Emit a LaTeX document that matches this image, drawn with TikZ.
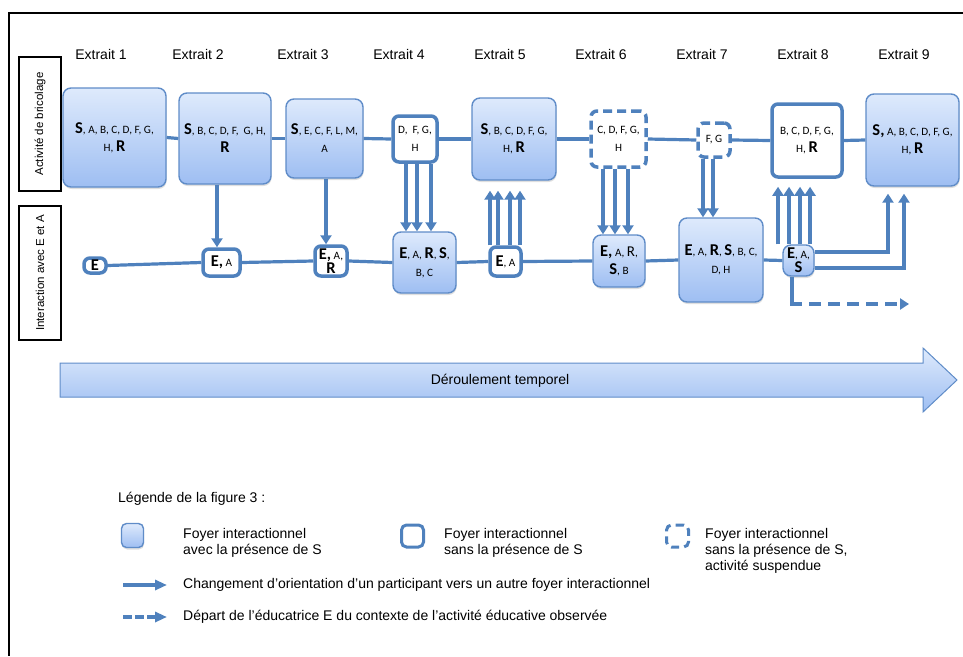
\documentclass[tikz,border=0pt]{standalone}
\usepackage{fontspec}
\setmainfont{Liberation Sans}
\newfontfamily\boxfont{Carlito}
\usetikzlibrary{arrows.meta,shadows,calc}
\definecolor{linec}{RGB}{79,129,189}
\definecolor{bordc}{RGB}{95,140,200}
\definecolor{topc}{RGB}{222,234,252}
\definecolor{botc}{RGB}{158,190,242}
\newcommand{\BL}[1]{{\fontsize{16.5}{18}\selectfont\bfseries #1}}
\newcommand{\ML}[1]{{\fontsize{15}{18}\selectfont #1}}
\begin{document}
\begin{tikzpicture}[x=1pt,y=-1pt,
  boxtext/.style={inner sep=0pt, align=center, font=\boxfont\fontsize{11.2}{18}\selectfont},
  fillbox/.style={boxtext, rounded corners=8pt, draw=bordc, line width=1.4pt, top color=topc, bottom color=botc,
     drop shadow={opacity=0.25, shadow xshift=0.6pt, shadow yshift=-2pt}},
  whitebox/.style={boxtext, rounded corners=6pt, draw=linec, line width=3.5pt, fill=white},
  dashbox/.style={whitebox, dash pattern=on 9pt off 5pt},
  conn/.style={draw=linec, line width=3.2pt},
  arr/.style={conn, -{Triangle[width=11pt,length=9pt]}},
  lbl/.style={font=\fontsize{14}{16}\selectfont, inner sep=0pt},
  rowbox/.style={draw=black, line width=1.8pt, fill=white, rotate=90, inner sep=0pt, font=\fontsize{11.5}{13}\selectfont}
]
\useasboundingbox (0,0) rectangle (963,656);
% frame
\draw[black, line width=1.3pt] (963,13) -- (9,13) -- (9,656);
% headers
\foreach \i/\x in {1/101,2/198,3/303,4/399,5/500,6/601,7/702,8/803,9/904}
  \node[lbl] (h\i) at (\x,54) {Extrait \i};
% row labels
\node[rowbox, minimum width=134pt, minimum height=42pt] (rowA) at (40,124) {Activité de bricolage};
\node[rowbox, minimum width=134pt, minimum height=42pt] (rowB) at (40,273) {Interaction avec E et A};
% top row
\node[fillbox, minimum width=103pt, minimum height=99pt] (T1) at (114.5,137.5) {\BL{S}, A, B, C, D, F, G,\\ H, \BL{R}};
\node[fillbox, minimum width=92pt, minimum height=91pt] (T2) at (225,138.5) {\BL{S}, B, C, D, F,\ \ G, H,\\ \BL{R}};
\node[fillbox, minimum width=77pt, minimum height=79pt] (T3) at (324.5,138.5) {\BL{S}, E, C, F, L, M,\\ A};
\node[whitebox, minimum width=44pt, minimum height=46pt] (T4) at (415,139) {D,\ \ F, G,\\ H};
\node[fillbox, minimum width=84pt, minimum height=82pt] (T5) at (514,139) {\BL{S}, B, C, D, F, G,\\ H, \BL{R}};
\node[dashbox, minimum width=55pt, minimum height=56pt] (T6) at (618.5,139) {C, D, F, G,\\ H};
\node[dashbox, minimum width=32pt, minimum height=34pt] (T7) at (714,140) {F, G};
\node[whitebox, minimum width=70pt, minimum height=73pt] (T8) at (807,140.5) {B, C, D, F, G,\\ H, \BL{R}};
\node[fillbox, minimum width=93pt, minimum height=92pt] (T9) at (912.5,140) {\BL{S,} A, B, C, D, F, G,\\ H, \BL{R}};
% bottom row
\node[whitebox, minimum width=22pt, minimum height=15pt] (B1) at (95,265.5) {\BL{E}};
\node[whitebox, minimum width=37pt, minimum height=27pt] (B2) at (221.5,262.5) {\BL{E,} A};
\node[whitebox, minimum width=32pt, minimum height=30pt] (B3) at (331,261) {\BL{E,} A,\\[-4pt] \BL{R}};
\node[fillbox, minimum width=63pt, minimum height=61pt] (B4) at (424.5,262.5) {\BL{E}, A, \BL{R}, \BL{S},\\ B, C};
\node[whitebox, minimum width=31pt, minimum height=29pt] (B5) at (505.5,261.5) {\BL{E}, A};
\node[fillbox, minimum width=52pt, minimum height=52pt] (B6) at (619,261) {\BL{E,} A, \ML{R},\\ \BL{S}, B};
\node[fillbox, minimum width=84pt, minimum height=84pt] (B7) at (721,260) {\BL{E}, A, \BL{R}, \BL{S}, B, C,\\ D, H};
\node[fillbox, minimum width=31pt, minimum height=31pt] (B8) at (798.5,260.5) {\BL{E}, A,\\[-4pt] \BL{S}};
% top connectors
\draw[conn] (T1.east) -- (T2.west);
\draw[conn] (T2.east) -- (T3.west);
\draw[conn] (T3.east) -- (T4.west);
\draw[conn] (T4.east) -- (T5.west);
\draw[conn] (T5.east) -- (T6.west);
\draw[conn] (T6.east) -- (T7.west);
\draw[conn] (T7.east) -- (T8.west);
\draw[conn] (T8.east) -- (T9.west);
% bottom connectors
\draw[conn] (B1.east) -- (B2.west);
\draw[conn] (B2.east) -- (B3.west);
\draw[conn] (B3.east) -- (B4.west);
\draw[conn] (B4.east) -- (B5.west);
\draw[conn] (B5.east) -- (B6.west);
\draw[conn] (B6.east) -- (B7.west);
\draw[conn] (B7.east) -- (B8.west);
% vertical arrows down
\draw[arr] (217,0 |- T2.south) -- (217,0 |- B2.north);
\draw[arr] (326,0 |- T3.south) -- (326,0 |- B3.north);
\foreach \x in {406,417,431} \draw[arr] (\x,0 |- T4.south) -- (\x,0 |- B4.north);
\foreach \x in {603,615,628} \draw[arr] (\x,0 |- T6.south) -- (\x,0 |- B6.north);
\foreach \x in {703,713} \draw[arr] (\x,0 |- T7.south) -- (\x,0 |- B7.north);
% vertical arrows up
\foreach \x in {490,498,510,520} \draw[arr, shorten >=10pt] (\x,0 |- B5.north) -- (\x,0 |- T5.south);
\foreach \x in {778,789,800,810} \draw[arr, shorten >=8pt] (\x,0 |- B8.north) -- (\x,0 |- T8.south);
% elbow arrows to T9
\draw[arr, shorten >=7pt] (B8.east |- 0,252) -| (888,0 |- T9.south);
\draw[arr, shorten >=7pt] (B8.east |- 0,268) -| (904,0 |- T9.south);
% departure
\coordinate (dk) at (792,304);
\coordinate (dend) at (909,304);
\draw[conn] (792,0 |- B8.south) -- (dk);
\draw[arr, dash pattern=on 12pt off 7pt] ([xshift=-1.6pt]dk) -- (dend);
% big time arrow
\shade[top color=topc, bottom color=botc, draw=bordc, line width=1pt]
  (60,363) -- (923,363) -- (923,348) -- (957,380) -- (923,412) -- (923,397) -- (60,397) -- cycle;
\node[lbl] (tempo) at (500,381) {Déroulement temporel};
% legend
\node[lbl, anchor=west] (legt) at (118,499) {Légende de la figure 3 :};
\node[fillbox, minimum width=22pt, minimum height=24pt, rounded corners=5pt] (L1) at (132.5,535.5) {};
\node[lbl, anchor=west, align=left] (L1t) at (183,543) {Foyer interactionnel\\avec la présence de S};
\node[whitebox, minimum width=22pt, minimum height=22pt, line width=3pt, rounded corners=5pt] (L2) at (412.5,536) {};
\node[lbl, anchor=west, align=left] (L2t) at (444,543) {Foyer interactionnel\\sans la présence de S};
\node[dashbox, minimum width=22pt, minimum height=22pt, line width=3pt, rounded corners=5pt, dash pattern=on 8pt off 5pt] (L3) at (677.5,536) {};
\node[lbl, anchor=west, align=left] (L3t) at (705,551) {Foyer interactionnel\\sans la présence de S,\\activité suspendue};
\coordinate (la1) at (123,585);
\coordinate (la2) at (167,585);
\draw[arr, line width=3.5pt, -{Triangle[width=10pt,length=12pt]}] (la1) -- (la2);
\node[lbl, anchor=west] (la) at (183,585) {Changement d’orientation d’un participant vers un autre foyer interactionnel};
\coordinate (lb1) at (123,617);
\coordinate (lb2) at (167,617);
\draw[arr, line width=3.5pt, dash pattern=on 9pt off 3pt, -{Triangle[width=10pt,length=12pt]}] (lb1) -- (lb2);
\node[lbl, anchor=west] (lb) at (183,617) {Départ de l’éducatrice E du contexte de l’activité éducative observée};
\end{tikzpicture}
\end{document}
